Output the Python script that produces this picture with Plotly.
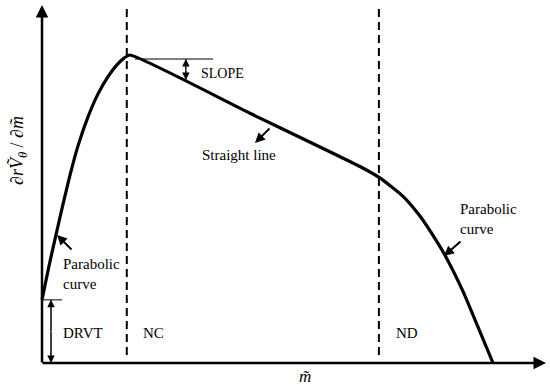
import plotly.graph_objects as go

# Curve data (normalized m~ and dimensionless derivative)
m_curve = [0.000, 0.0155, 0.031, 0.0466, 0.0621, 0.0798, 0.102, 0.124, 0.146, 0.166,
           0.182, 0.195,
           0.461, 0.705,
           0.749, 0.800, 0.838, 0.876, 0.898, 0.934, 0.965, 1.0]
v_curve = [0.205, 0.315, 0.416, 0.516, 0.610, 0.705, 0.799, 0.873, 0.929, 0.968,
           0.990, 1.0,
           0.811, 0.638,
           0.601, 0.542, 0.477, 0.393, 0.338, 0.231, 0.123, 0.0]
m_nc = 0.188          # NC boundary
m_nd = 0.747          # ND boundary
drvt = 0.205          # DRVT value
slope_ref = 0.987     # horizontal ref level
slope_hit = 0.919     # curve level at SLOPE arrow
m_slope = 0.319

W, H = 550, 386
# pixel <-> data helpers (used only for layout placement)
X0, XS = 42, 451
Y0, YS = 363, 308
def dx(px): return (px - X0) / XS
def dy(py): return (Y0 - py) / YS

fig = go.Figure()
fig.add_trace(go.Scatter(x=m_curve, y=v_curve, mode="lines",
                         line=dict(color="black", width=3.2, shape="spline", smoothing=0.5),
                         hoverinfo="skip"))

shapes = []
for mx in (m_nc, m_nd):
    shapes.append(dict(type="line", x0=mx, x1=mx, y0=dy(355), y1=dy(5),
                       line=dict(color="black", width=2, dash="8px,5px")))
# SLOPE reference line
shapes.append(dict(type="line", x0=dx(135), x1=dx(213), y0=slope_ref, y1=slope_ref,
                   line=dict(color="black", width=1)))
# DRVT tick
shapes.append(dict(type="line", x0=0, x1=dx(62), y0=drvt, y1=drvt,
                   line=dict(color="black", width=1)))
# double-arrow shafts
shapes.append(dict(type="line", x0=m_slope, x1=m_slope, y0=slope_ref, y1=slope_hit,
                   line=dict(color="black", width=1)))
shapes.append(dict(type="line", x0=dx(51), x1=dx(51), y0=0, y1=drvt,
                   line=dict(color="black", width=1)))

SERIF = "'Liberation Serif', 'Times New Roman', Times, serif"
font = dict(family=SERIF, size=15, color="black")
ann = []

def arrow(hx, hy, tx, ty, width, size=1.0):
    ann.append(dict(x=hx, y=hy, ax=tx, ay=ty, xref="x", yref="y", axref="x", ayref="y",
                    showarrow=True, arrowhead=2, arrowwidth=width, arrowsize=size,
                    arrowcolor="black", text="", font=dict(size=1),
                    borderpad=0, standoff=0, startstandoff=0))

# axes with arrows
arrow(0, dy(5), 0, 0, 2.5)
arrow(dx(546), 0, 0, 0, 2.5)
# SLOPE double arrow heads
mid_s = (slope_ref + slope_hit) / 2
arrow(m_slope, slope_ref, m_slope, mid_s, 1, 1.5)
arrow(m_slope, slope_hit, m_slope, mid_s, 1, 1.5)
# DRVT double arrow heads
arrow(dx(51), drvt, dx(51), drvt / 2, 1, 1.5)
arrow(dx(51), 0, dx(51), drvt / 2, 1, 1.5)
# pointer arrows
for (hx, hy, tx, ty) in [(57, 235, 72, 250), (255, 143, 270, 128), (444, 256, 461, 241)]:
    arrow(dx(hx), dy(hy), dx(tx), dy(ty), 2, 1)

def txt(text, px, py, size=15, xanchor="left", **kw):
    f = dict(font); f["size"] = size
    ann.append(dict(text=text, x=px / W, y=1 - py / H, xref="paper", yref="paper",
                    showarrow=False, xanchor=xanchor, yanchor="middle", font=f,
                    align="left", **kw))

txt("SLOPE", 199, 73, size=14)
txt("Straight line", 200, 155)
txt("Parabolic<br>curve", 61, 274)
txt("Parabolic<br>curve", 458, 219)
txt("DRVT", 61, 333)
txt("NC", 141, 333)
txt("ND", 394, 333)
txt("<i>m̃</i>", 305, 376, size=17, xanchor="center")
txt("∂<i>r</i><i>Ṽ</i><sub><i>θ</i></sub> / ∂<i>m̃</i>", 18, 151, size=18,
    xanchor="center", textangle=-90)

fig.update_layout(
    width=W, height=H, margin=dict(l=0, r=0, t=0, b=0),
    paper_bgcolor="white", plot_bgcolor="white", showlegend=False,
    font=font,
    xaxis=dict(range=[dx(0), dx(W)], visible=False, fixedrange=True),
    yaxis=dict(range=[dy(H), dy(0)], visible=False, fixedrange=True),
    shapes=shapes, annotations=ann,
)
fig.write_html("out.html", config={"displayModeBar": False},
               post_script="document.body.style.margin='0';document.body.style.overflow='hidden';")
